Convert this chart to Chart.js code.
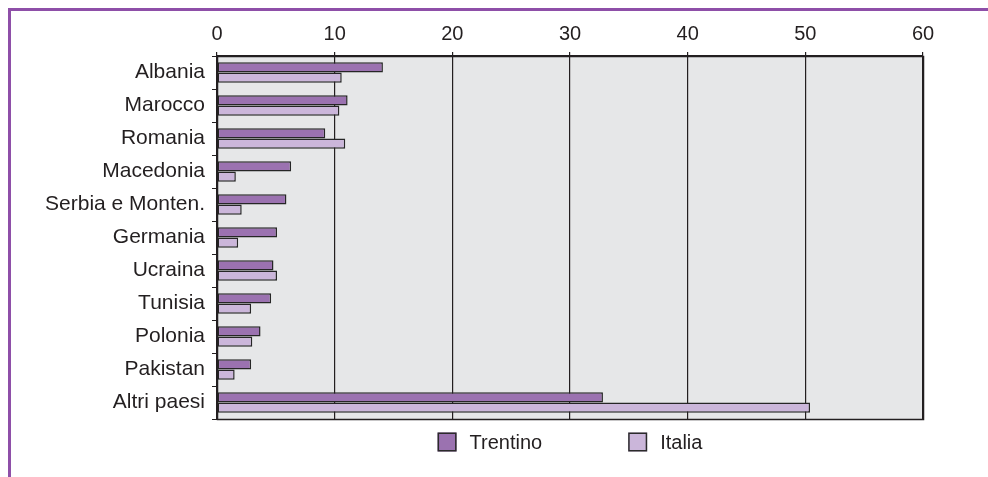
<!DOCTYPE html>
<html>
<head>
<meta charset="utf-8">
<script src="https://cdn.jsdelivr.net/npm/chart.js@4/dist/chart.umd.min.js"></script>
<style>
  html, body { margin: 0; padding: 0; background: #ffffff; }
  #wrap { width: 988px; height: 477px; position: relative; }
</style>
</head>
<body>
<div id="wrap"><canvas id="c" width="988" height="477"></canvas></div>
<script>
const categories = ["Albania", "Marocco", "Romania", "Macedonia", "Serbia e Monten.", "Germania", "Ucraina", "Tunisia", "Polonia", "Pakistan", "Altri paesi"];
const trentino = [14.1, 11.1, 9.2, 6.3, 5.9, 5.1, 4.8, 4.6, 3.7, 2.9, 32.8];
const italia   = [10.6, 10.4, 10.9, 1.6, 2.1, 1.8, 5.1, 2.9, 3.0, 1.5, 50.4];
const xTicks = [0, 10, 20, 30, 40, 50, 60];
const seriesNames = ["Trentino", "Italia"];

const FONT = "'Liberation Sans', Arial, Helvetica, sans-serif";
const TEXT = '#231f20';
const LINE = '#231f20';

const frameAndBg = {
  id: 'frameAndBg',
  beforeDraw(chart) {
    const {ctx, chartArea: a} = chart;
    ctx.save();
    ctx.strokeStyle = '#8e4fa8';
    ctx.lineWidth = 3;
    ctx.beginPath();
    ctx.moveTo(988, 9.5);
    ctx.lineTo(9.5, 9.5);
    ctx.lineTo(9.5, 477);
    ctx.stroke();
    ctx.fillStyle = '#e6e7e8';
    ctx.fillRect(a.left, a.top, a.right - a.left, a.bottom - a.top);
    ctx.restore();
  },
  afterDraw(chart) {
    const {ctx, chartArea: a} = chart;
    ctx.save();
    ctx.strokeStyle = LINE;
    ctx.lineWidth = 1.5;
    ctx.strokeRect(Math.round(a.left) + 0.5, Math.round(a.top) + 0.5, Math.round(a.right - a.left), Math.round(a.bottom - a.top));
    const ds = chart.data.datasets;
    ctx.font = '20px ' + FONT;
    ctx.textBaseline = 'middle';
    ctx.textAlign = 'left';
    const box = 19, gap = 13, spacing = 86;
    const widths = ds.map(d => box + gap + ctx.measureText(d.label).width);
    const total = widths.reduce((s, w) => s + w, 0) + spacing * (ds.length - 1);
    let x = (a.left + a.right) / 2 - total / 2;
    const yc = 442;
    ds.forEach((d, i) => {
      ctx.fillStyle = d.backgroundColor;
      ctx.fillRect(x, yc - box / 2, box, box);
      ctx.strokeStyle = '#2b2b2b';
      ctx.lineWidth = 1.5;
      ctx.strokeRect(x + 0.75, yc - box / 2 + 0.75, box - 1.5, box - 1.5);
      ctx.fillStyle = TEXT;
      ctx.fillText(d.label, x + box + gap, yc + 1);
      x += widths[i] + spacing;
    });
    ctx.restore();
  }
};

new Chart(document.getElementById('c'), {
  type: 'bar',
  data: {
    labels: categories,
    datasets: [
      { label: seriesNames[0], data: trentino, backgroundColor: '#9b72b0', borderColor: '#262626', borderWidth: 1.5, borderSkipped: false },
      { label: seriesNames[1], data: italia, backgroundColor: '#cbb6da', borderColor: '#262626', borderWidth: 1.5, borderSkipped: false }
    ]
  },
  options: {
    indexAxis: 'y',
    responsive: false,
    animation: false,
    devicePixelRatio: 1,
    layout: { padding: { left: 0, top: 0, right: 65, bottom: 58 } },
    datasets: { bar: { categoryPercentage: 0.62, barPercentage: 1.0 } },
    plugins: { legend: { display: false }, tooltip: { enabled: false } },
    scales: {
      x: {
        position: 'top',
        min: 0, max: 60,
        afterBuildTicks(scale) { scale.ticks = xTicks.map(v => ({ value: v })); },
        afterFit(scale) { scale.height = 56; },
        ticks: { color: TEXT, font: { family: FONT, size: 20 }, padding: 6 },
        grid: { color: LINE, lineWidth: 1.2, tickLength: 4, drawOnChartArea: true },
        border: { display: true, color: LINE, width: 1.5 }
      },
      y: {
        afterFit(scale) { scale.width = 217; },
        ticks: { color: TEXT, font: { family: FONT, size: 21 }, padding: 7 },
        grid: { color: LINE, lineWidth: 1, tickLength: 5, drawOnChartArea: false, offset: true },
        border: { display: true, color: LINE, width: 1.5 }
      }
    }
  },
  plugins: [frameAndBg]
});
</script>
</body>
</html>
